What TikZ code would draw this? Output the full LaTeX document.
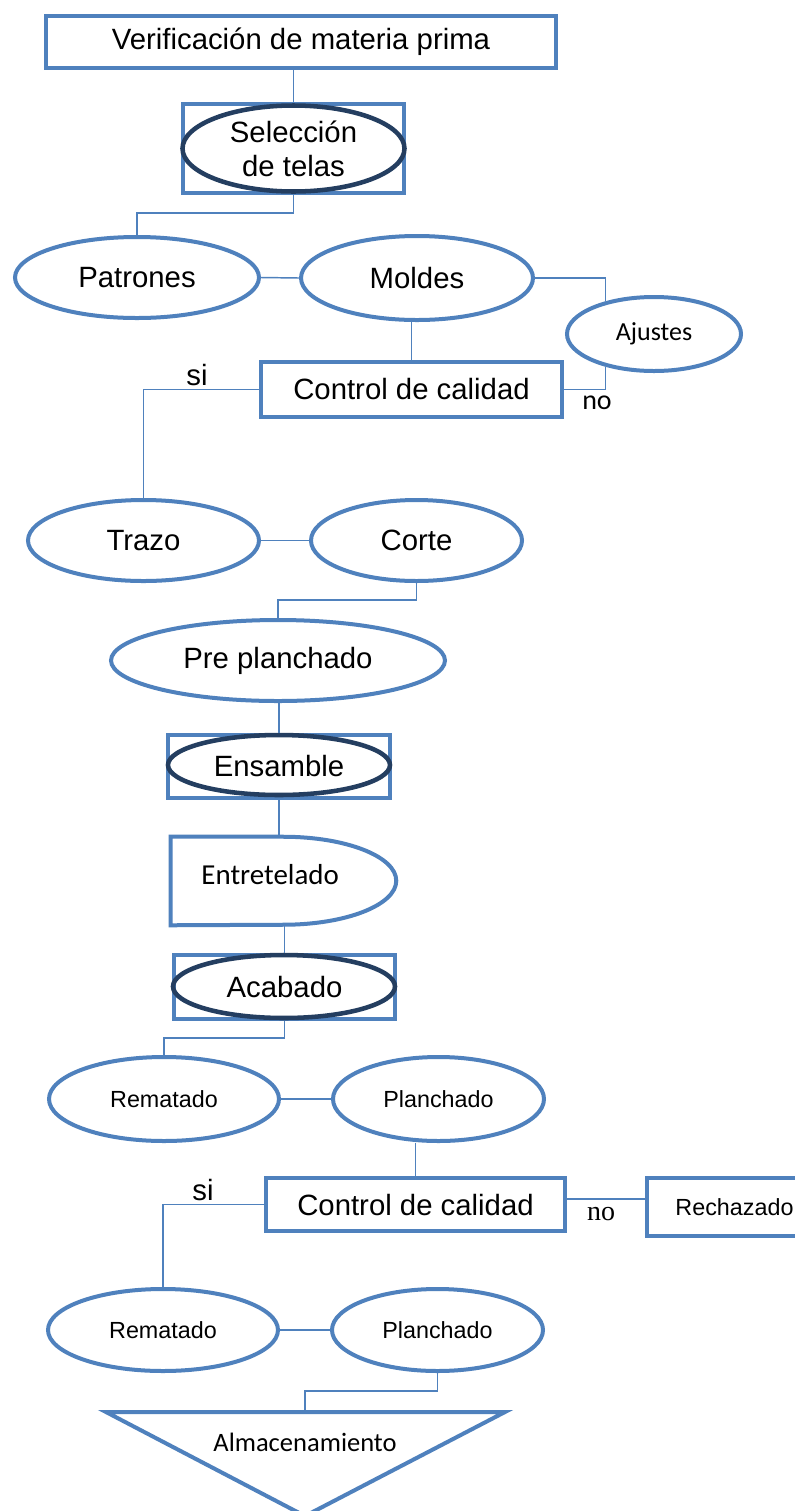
\documentclass[tikz,border=0pt]{standalone}
\usepackage{fontspec}
\setmainfont{Liberation Sans}
\newfontfamily\calibfont{Carlito}
\newfontfamily\romanfont{Liberation Serif}
\usetikzlibrary{shapes.geometric}
\definecolor{ofblue}{RGB}{79,129,189}
\definecolor{ofdark}{RGB}{36,62,96}

\begin{document}
\begin{tikzpicture}[x=0.75pt,y=-0.75pt,
    box/.style={rectangle, draw=ofblue, line width=3pt, fill=white, inner sep=0pt},
    oval/.style={ellipse, draw=ofblue, line width=3pt, fill=white, inner sep=0pt},
    ring/.style={ellipse, draw=ofdark, line width=3.4pt, inner sep=0pt},
    link/.style={draw=ofblue, line width=1.1pt},
    bigtxt/.style={font=\fontsize{22}{25.5}\selectfont},
    midtxt/.style={font=\fontsize{17.5}{21}\selectfont},
    caltxt/.style={font=\calibfont\fontsize{#1}{24}\selectfont}]
        \fill[white] (0,0) rectangle (795,1511);
        \useasboundingbox (0,0) rectangle (795,1511);
        %% Materia prima
        \node[box, bigtxt, minimum width=382.5pt, minimum height=39pt] (verif) at (301,42) {Verificación de materia prima};
        \node[box, bigtxt, align=center, minimum width=165.75pt, minimum height=66.75pt] (selbox) at (293.5,148.5) {Selección\\de telas};
        \node[ring, minimum width=166.5pt, minimum height=64.5pt] (selring) at (selbox.center) {};
        %% Patrones y moldes
        \node[oval, bigtxt, minimum width=183pt, minimum height=60.75pt] (patrones) at (137,277.5) {Patrones};
        \node[oval, bigtxt, minimum width=174pt, minimum height=63pt] (moldes) at (417,278) {Moldes};
        \node[oval, caltxt=19.5, minimum width=130.5pt, minimum height=55.5pt] (ajustes) at (654,334) {Ajustes};
        \node[box, bigtxt, minimum width=225.75pt, minimum height=41.25pt] (ctrlA) at (411.5,389.5) {Control de calidad};
        %% Corte
        \node[oval, bigtxt, minimum width=173.25pt, minimum height=60.75pt] (trazo) at (143.5,540.5) {Trazo};
        \node[oval, bigtxt, minimum width=158.25pt, minimum height=60.75pt] (corte) at (416.5,540.5) {Corte};
        \node[oval, bigtxt, minimum width=250.5pt, minimum height=60.75pt] (prepl) at (278,660.5) {Pre planchado};
        %% Ensamble
        \node[box, bigtxt, minimum width=166.5pt, minimum height=47.25pt] (ensbox) at (279,766.5) {Ensamble};
        \node[ring, minimum width=166.5pt, minimum height=45pt] (ensring) at (279,765) {};
        \node[minimum width=168.75pt, minimum height=66pt, inner sep=0pt,
              label={[caltxt=21.7, xshift=-10pt, yshift=4.5pt]center:Entretelado}] (entret) at (283.5,881) {};
        \draw[draw=ofblue, line width=3pt] (entret.north west) -- ([xshift=-84.75pt]entret.north east)
            arc[start angle=90, end angle=-90, x radius=84.75pt, y radius=33pt] -- (entret.south west) -- cycle;
        \node[box, bigtxt, minimum width=165.75pt, minimum height=48pt] (acabox) at (284.5,987) {Acabado};
        \node[ring, minimum width=166.5pt, minimum height=47.25pt] (acaring) at (284,986.5) {};
        %% Acabado
        \node[oval, midtxt, minimum width=172.5pt, minimum height=63pt] (rematA) at (164,1099) {Rematado};
        \node[oval, midtxt, minimum width=158.25pt, minimum height=63pt] (planchA) at (438.5,1099) {Planchado};
        \node[box, bigtxt, minimum width=224.25pt, minimum height=39.75pt] (ctrlB) at (415.5,1204.5) {Control de calidad};
        \node[box, midtxt, minimum width=131.25pt, minimum height=43.5pt] (rech) at (734.5,1207) {Rechazado};
        \node[oval, midtxt, minimum width=172.5pt, minimum height=61.5pt] (rematB) at (163,1330) {Rematado};
        \node[oval, midtxt, minimum width=158.25pt, minimum height=61.5pt] (planchB) at (437.5,1330) {Planchado};
        %% Almacenamiento
        \coordinate (almtop) at (305,1412);
        \draw[draw=ofblue, line width=3pt] (106,1412) -- (505,1412) -- (305,1516) -- cycle;
        \node[caltxt=19.9] (almac) at (305,1442) {Almacenamiento};
        %% Links
        \draw[link] (selbox.north |- verif.south) -- (selbox.north);
        \draw[link] (selbox.south) -- ++(0,18) -| (patrones.north);
        \draw[link] (patrones.east) -- (moldes.west);
        \draw[link] (moldes.east) -| (ajustes.146);
        \draw[link] (ctrlA.north) -- (ctrlA.north |- moldes.south);
        \draw[link] (ctrlA.east) -| (ajustes.214);
        \draw[link] (ctrlA.west) -| (trazo.north);
        \draw[link] (trazo.east) -- (corte.west);
        \draw[link] (corte.south) -- ++(0,17) -| (prepl.north);
        \draw[link] (ensbox.north |- prepl.south) -- (ensbox.north);
        \draw[link] (ensbox.south) -- (ensbox.south |- entret.north);
        \draw[link] (acabox.north |- entret.south) -- (acabox.north);
        \draw[link] (acabox.south) -- ++(0,17) -| (rematA.north);
        \draw[link] (rematA.east) -- (planchA.west);
        \draw[link] (ctrlB.north) -- (ctrlB.north |- planchA.south);
        \draw[link] ([yshift=4pt]ctrlB.east) -- ([yshift=4pt]ctrlB.east -| rech.west);
        \draw[link] (ctrlB.west) -| (rematB.north);
        \draw[link] (rematB.east) -- (planchB.west);
        \draw[link] (planchB.south) -- ++(0,18) -| (almtop);
        %% Labels
        \node[bigtxt] (siA) at (197,375) {si};
        \node[caltxt=21] (noA) at (597,403) {no};
        \node[bigtxt] (siB) at (203,1190) {si};
        \node[font=\romanfont\fontsize{21}{24}\selectfont] (noB) at (601,1214) {no};
\end{tikzpicture}
\end{document}
